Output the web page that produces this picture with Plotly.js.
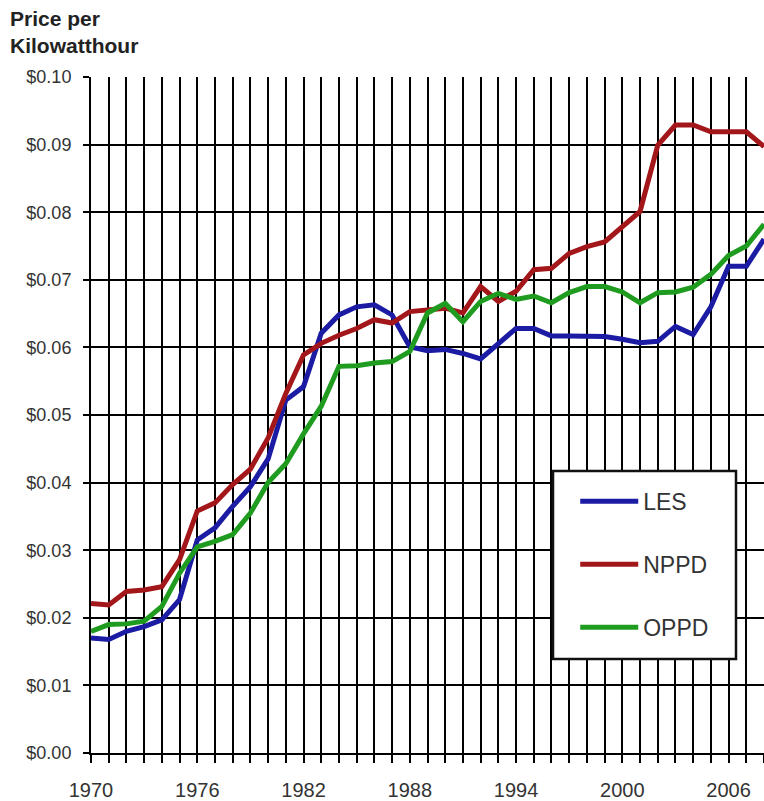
<!DOCTYPE html>
<html>
<head>
<meta charset="utf-8">
<script src="https://cdn.plot.ly/plotly-3.0.1.min.js"></script>
<style>
html,body{margin:0;padding:0;background:#fff;}
#chart{width:764px;height:801px;}
</style>
</head>
<body>
<div id="chart"></div>
<script>
var years = [];
for (var yr = 1970; yr <= 2008; yr++) years.push(yr);

var yearLabels = ['1970','','','','','','1976','','','','','','1982','','','','','','1988','','','','','','1994','','','','','','2000','','','','','','2006','',''];

var les = [0.0170,0.0168,0.0180,0.0187,0.0197,0.0227,0.0315,0.0333,0.0365,0.0394,
           0.0435,0.0522,0.0542,0.0621,0.0648,0.0660,0.0663,0.0648,0.0601,0.0595,
           0.0597,0.0591,0.0583,0.0606,0.0628,0.0628,0.0617,0.0617,0.0617,0.0616,
           0.0612,0.0607,0.0609,0.0631,0.0619,0.0660,0.0720,0.0720,0.0760];

var nppd = [0.0221,0.0219,0.0239,0.0241,0.0246,0.0286,0.0358,0.0370,0.0397,0.0420,
            0.0466,0.0532,0.0589,0.0606,0.0618,0.0628,0.0641,0.0636,0.0653,0.0655,
            0.0658,0.0651,0.0690,0.0668,0.0683,0.0715,0.0717,0.0739,0.0749,0.0756,
            0.0779,0.0801,0.0899,0.0929,0.0929,0.0919,0.0919,0.0919,0.0897];

var oppd = [0.0180,0.0190,0.0191,0.0195,0.0217,0.0266,0.0305,0.0313,0.0323,0.0355,
            0.0400,0.0428,0.0472,0.0513,0.0572,0.0573,0.0577,0.0579,0.0594,0.0651,
            0.0665,0.0638,0.0668,0.0680,0.0671,0.0676,0.0666,0.0681,0.0690,0.0690,
            0.0682,0.0666,0.0681,0.0682,0.0689,0.0708,0.0736,0.0750,0.0782];

var seriesNames = ['LES','NPPD','OPPD'];
var seriesColors = ['#1b1ba3','#a3171a','#1f9c1f'];
var seriesData = [les, nppd, oppd];

var FONT = 'Arial, "Liberation Sans", sans-serif';

var traces = seriesData.map(function(d, i){
  return {
    x: years, y: d, type: 'scatter', mode: 'lines',
    name: seriesNames[i], legendgroup: seriesNames[i],
    line: {color: seriesColors[i], width: 5},
    hoverinfo: 'skip'
  };
});

var layout = {
  width: 764, height: 801,
  margin: {l: 91, r: 0, t: 77, b: 48, pad: 0},
  paper_bgcolor: '#fff', plot_bgcolor: '#fff',
  font: {family: FONT, color: '#333'},
  annotations: [{
    text: '<b>Price per<br>Kilowatthour</b>',
    font: {family: FONT, size: 21, color: '#222'},
    xref: 'paper', yref: 'paper',
    x: -0.1235, xanchor: 'left', y: 1.106, yanchor: 'top',
    align: 'left', showarrow: false
  }],
  xaxis: {
    range: [1970, 2008],
    tickmode: 'array', tickvals: years, ticktext: yearLabels,
    showgrid: true, gridcolor: '#000', gridwidth: 2,
    showline: true, linecolor: '#000', linewidth: 2,
    ticks: 'outside', ticklen: 8, tickwidth: 2, tickcolor: '#000',
    tickfont: {family: FONT, size: 20, color: '#333'},
    ticklabelstandoff: 10,
    zeroline: false, fixedrange: true
  },
  yaxis: {
    range: [0, 0.1],
    tickmode: 'linear', tick0: 0, dtick: 0.01,
    tickformat: '$.2f',
    showgrid: true, gridcolor: '#000', gridwidth: 2,
    showline: true, linecolor: '#000', linewidth: 2,
    ticks: 'outside', ticklen: 6, tickwidth: 2, tickcolor: '#000',
    tickfont: {family: FONT, size: 18, color: '#333'},
    ticklabelstandoff: 8,
    zeroline: false, fixedrange: true
  },
  shapes: [{
    type: 'rect', xref: 'paper', yref: 'paper',
    x0: 0.6865, x1: 0.9584, y0: 0.1391, y1: 0.4172,
    fillcolor: '#fff', line: {color: '#111', width: 2.5}, layer: 'above'
  }],
  showlegend: true,
  legend: {
    x: 0.7195, y: 0.404, xanchor: 'left', yanchor: 'top',
    bgcolor: 'rgba(0,0,0,0)', borderwidth: 0,
    font: {family: FONT, size: 23, color: '#333'},
    traceorder: 'grouped', tracegroupgap: 30,
    itemwidth: 58
  }
};

Plotly.newPlot('chart', traces, layout, {staticPlot: true, displayModeBar: false});
</script>
</body>
</html>
